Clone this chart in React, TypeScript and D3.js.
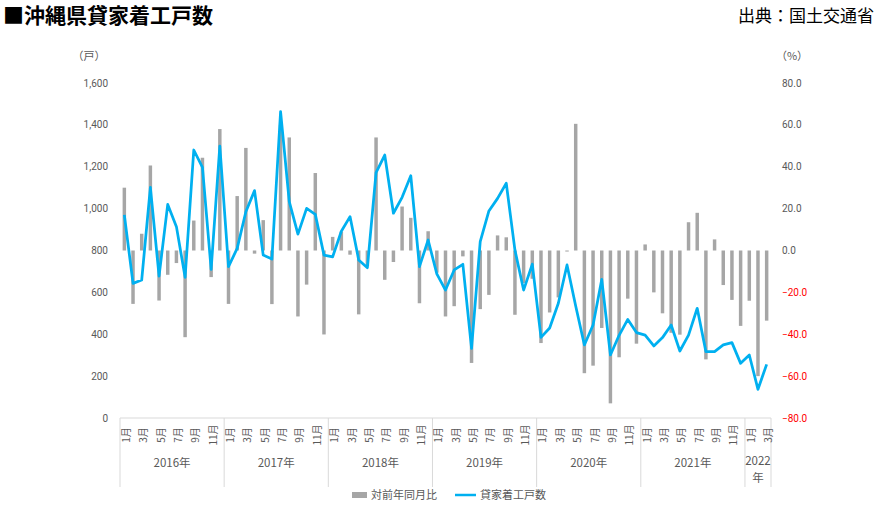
import React from 'react';
import * as d3 from 'd3';

// 貸家着工戸数 (戸), 2016年1月〜2022年3月
const units: number[] = [
  970, 643, 659, 1102, 678, 1020, 914, 672, 1280, 1197, 710, 1299,
  723, 810, 985, 1086, 778, 759, 1463, 1033, 878, 1001, 973, 778,
  770, 892, 962, 755, 718, 1172, 1256, 978, 1054, 1157, 723, 850,
  688, 611, 707, 734, 333, 842, 989, 1049, 1121, 802, 611, 735,
  385, 430, 548, 731, 535, 349, 444, 662, 301, 395, 471, 408,
  396, 344, 384, 444, 320, 396, 524, 317, 317, 349, 360, 261,
  301, 137, 256,
];

// 対前年同月比 (%)
const yoy: number[] = [
  30, -25.5, 8, 40.6, -23.9, -11.6, -6, -41.4, 14.3, 44.3, -12.7, 58,
  -25.5, 26, 49, -1.5, 14.5, -25.6, 60, 54, -31.5, -16.3, 37, -40.1,
  6.5, 9, -2, -30.5, -7.5, 54, -14, -5.5, 21, 15.6, -25.2, 9.2,
  -10.6, -31.5, -26.6, -2.8, -53.7, -28, -21.2, 7.2, 6.3, -30.7, -15.5, -13.5,
  -44.2, -29.6, -22.4, -0.5, 60.5, -58.6, -55, -37, -73, -51, -23, -44.5,
  2.9, -20, -30, -39.3, -40.2, 13.5, 18, -52, 5.3, -16.5, -23.6, -36,
  -24, -60, -33.5,
];

const years = ['2016', '2017', '2018', '2019', '2020', '2021', '2022'];
const monthsPerYear = [12, 12, 12, 12, 12, 12, 3];
const monthNames = ['1月', '2月', '3月', '4月', '5月', '6月', '7月', '8月', '9月', '10月', '11月', '12月'];
const leftTicks = [0, 200, 400, 600, 800, 1000, 1200, 1400, 1600];
const rightTicks = [80, 60, 40, 20, 0, -20, -40, -60, -80];

const W = 883;
const H = 511;
const left = 120;
const right = 771;
const top = 83;
const bottom = 418;

const numFont = 'Roboto, "Noto Sans", sans-serif';
const jpFont = '"Noto Sans CJK JP", "Noto Sans", sans-serif';

const App: React.FC = () => {
  const months: { label: string; idx: number }[] = [];
  years.forEach((_, yi) => {
    for (let m = 0; m < monthsPerYear[yi]; m++) {
      months.push({ label: monthNames[m], idx: months.length });
    }
  });

  const x = d3.scaleBand<number>()
    .domain(months.map(d => d.idx))
    .range([left, right])
    .paddingInner(0.6)
    .paddingOuter(0.3);
  const cx = (i: number) => (x(i) || 0) + x.bandwidth() / 2;

  const yL = d3.scaleLinear().domain([0, 1600]).range([bottom, top]);
  const yR = d3.scaleLinear().domain([-80, 80]).range([bottom, top]);

  const line = d3.line<number>()
    .x((_, i) => cx(i))
    .y(d => yL(d));

  const fmtL = d3.format(',');
  const fmtR = d3.format('.1f');

  // year boundaries
  const step = x.step();
  const bounds: number[] = [left];
  let acc = 0;
  monthsPerYear.forEach(n => {
    acc += n;
    bounds.push(left + step * acc);
  });

  return (
    <svg width={W} height={H} style={{ position: 'absolute', left: 0, top: 0, background: '#fff' }}>
      <text x={3} y={23} fontFamily={jpFont} fontSize={21} fontWeight="bold" fill="#000">■沖縄県貸家着工戸数</text>
      <text x={874} y={22} textAnchor="end" fontFamily={jpFont} fontSize={17} fill="#000">出典：国土交通省</text>

      <text x={89} y={60} textAnchor="middle" fontFamily={jpFont} fontSize={11} fill="#595959">（戸）</text>
      <text x={792} y={60} textAnchor="middle" fontFamily={jpFont} fontSize={11} fill="#595959">（%）</text>

      {leftTicks.map(t => (
        <text key={'l' + t} x={108} y={yL(t) + 3.5} textAnchor="end" fontFamily={numFont} fontSize={10} fill="#595959">
          {fmtL(t)}
        </text>
      ))}
      {rightTicks.map(t => (
        <text key={'r' + t} x={782} y={yR(t) + 3.5} fontFamily={numFont} fontSize={10} fill={t < 0 ? '#FF0000' : '#595959'}>
          {fmtR(t)}
        </text>
      ))}

      {/* bars */}
      {yoy.map((v, i) => (
        <rect
          key={'b' + i}
          x={x(i)}
          y={Math.min(yR(v), yR(0))}
          width={x.bandwidth()}
          height={Math.abs(yR(v) - yR(0))}
          fill="#A6A6A6"
        />
      ))}

      {/* line */}
      <path d={line(units) || ''} fill="none" stroke="#00B0F0" strokeWidth={2.75} strokeLinejoin="round" />

      {/* category axis */}
      <line x1={left} x2={right} y1={bottom} y2={bottom} stroke="#D9D9D9" strokeWidth={1} />
      {bounds.map((b, i) => (
        <line key={'s' + i} x1={b} x2={b} y1={bottom} y2={487} stroke="#D9D9D9" strokeWidth={1} />
      ))}
      {months.map(m => (m.idx % 12) % 2 === 0 ? (
        <text
          key={'m' + m.idx}
          transform={`translate(${cx(m.idx) + 5.5},435) rotate(-90)`}
          textAnchor="middle"
          fontFamily={jpFont}
          fontSize={10}
          fill="#595959"
        >
          {m.label}
        </text>
      ) : null)}
      {years.map((yr, i) => {
        const mid = (bounds[i] + bounds[i + 1]) / 2;
        if (monthsPerYear[i] < 6) {
          return (
            <g key={'y' + yr}>
              <text x={mid} y={465} textAnchor="middle" fontFamily={jpFont} fontSize={11.5} fill="#595959">{yr}</text>
              <text x={mid} y={482} textAnchor="middle" fontFamily={jpFont} fontSize={11.5} fill="#595959">年</text>
            </g>
          );
        }
        return (
          <text key={'y' + yr} x={mid} y={467} textAnchor="middle" fontFamily={jpFont} fontSize={11.5} fill="#595959">
            {yr}年
          </text>
        );
      })}

      {/* legend */}
      <rect x={352} y={492} width={15} height={6} fill="#A6A6A6" />
      <text x={371} y={499} fontFamily={jpFont} fontSize={11} fill="#595959">対前年同月比</text>
      <line x1={455} x2={476} y1={495} y2={495} stroke="#00B0F0" strokeWidth={2.5} />
      <text x={480} y={499} fontFamily={jpFont} fontSize={11} fill="#595959">貸家着工戸数</text>
    </svg>
  );
};

export default App;
